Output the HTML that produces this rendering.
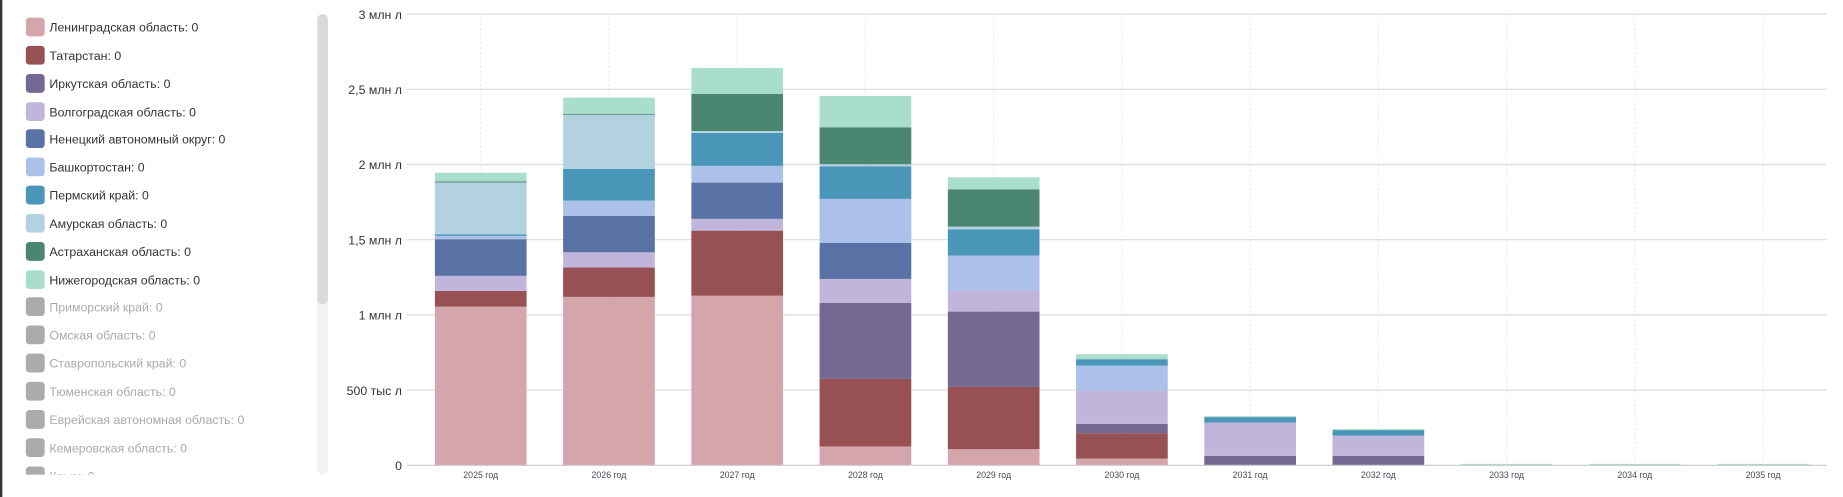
<!DOCTYPE html>
<html><head><meta charset="utf-8">
<style>
html,body{margin:0;padding:0;background:#fff;overflow:hidden}
svg{display:block}
text{font-family:"Liberation Sans","DejaVu Sans",sans-serif}
</style></head>
<body>
<svg id="s" width="1843" height="497" viewBox="0 0 1568 423" preserveAspectRatio="none" xmlns="http://www.w3.org/2000/svg">
<rect x="0" y="0" width="1568" height="423" fill="#fff"/>
<rect x="0" y="0" width="2" height="423" fill="#333"/>
<!-- scrollbar -->
<rect x="270" y="12" width="9" height="392" rx="4.5" fill="#f3f3f3"/>
<rect x="270" y="12" width="9" height="247" rx="4.5" fill="#d9d9d9"/>
<!-- legend -->
<g font-size="10.5">
<defs><clipPath id="lc"><rect x="0" y="0" width="265" height="404"/></clipPath></defs>
<g clip-path="url(#lc)">
<rect x="22" y="15" width="16" height="16" rx="3" fill="#d4a5ab"/><text x="42" y="27" fill="#333">Ленинградская область: 0</text>
<rect x="22" y="39" width="16" height="16" rx="3" fill="#975153"/><text x="42" y="51" fill="#333">Татарстан: 0</text>
<rect x="22" y="63" width="16" height="16" rx="3" fill="#756892"/><text x="42" y="75" fill="#333">Иркутская область: 0</text>
<rect x="22" y="87" width="16" height="16" rx="3" fill="#c0b5da"/><text x="42" y="99" fill="#333">Волгоградская область: 0</text>
<rect x="22" y="110" width="16" height="16" rx="3" fill="#5872a6"/><text x="42" y="122" fill="#333">Ненецкий автономный округ: 0</text>
<rect x="22" y="134" width="16" height="16" rx="3" fill="#abc1ea"/><text x="42" y="146" fill="#333">Башкортостан: 0</text>
<rect x="22" y="158" width="16" height="16" rx="3" fill="#4a96b8"/><text x="42" y="170" fill="#333">Пермский край: 0</text>
<rect x="22" y="182" width="16" height="16" rx="3" fill="#b3d2df"/><text x="42" y="194" fill="#333">Амурская область: 0</text>
<rect x="22" y="206" width="16" height="16" rx="3" fill="#4b8670"/><text x="42" y="218" fill="#333">Астраханская область: 0</text>
<rect x="22" y="230" width="16" height="16" rx="3" fill="#a9dfca"/><text x="42" y="242" fill="#333">Нижегородская область: 0</text>
<rect x="22" y="253" width="16" height="16" rx="3" fill="#ababab"/><text x="42" y="265" fill="#aaa">Приморский край: 0</text>
<rect x="22" y="277" width="16" height="16" rx="3" fill="#ababab"/><text x="42" y="289" fill="#aaa">Омская область: 0</text>
<rect x="22" y="301" width="16" height="16" rx="3" fill="#ababab"/><text x="42" y="313" fill="#aaa">Ставропольский край: 0</text>
<rect x="22" y="325" width="16" height="16" rx="3" fill="#ababab"/><text x="42" y="337" fill="#aaa">Тюменская область: 0</text>
<rect x="22" y="349" width="16" height="16" rx="3" fill="#ababab"/><text x="42" y="361" fill="#aaa">Еврейская автономная область: 0</text>
<rect x="22" y="373" width="16" height="16" rx="3" fill="#ababab"/><text x="42" y="385" fill="#aaa">Кемеровская область: 0</text>
<rect x="22" y="397" width="16" height="16" rx="3" fill="#ababab"/><text x="42" y="409" fill="#aaa">Крым: 0</text>
</g></g>
<!-- grid -->
<g stroke="#dcdcdc" stroke-width="1">
<line x1="346" x2="1554" y1="12" y2="12"/>
<line x1="346" x2="1554" y1="76" y2="76"/>
<line x1="346" x2="1554" y1="140" y2="140"/>
<line x1="346" x2="1554" y1="204" y2="204"/>
<line x1="346" x2="1554" y1="268" y2="268"/>
<line x1="346" x2="1554" y1="332" y2="332"/>
</g>
<g id="vg" stroke="#e6e6e6" stroke-width="0.8" stroke-dasharray="2,2"></g>
<g id="bars"></g>
<line x1="346" x2="1554" y1="396" y2="396" stroke="#c8c8c8" stroke-width="1"/>
<g font-size="10.5" fill="#333" text-anchor="end">
<text x="342" y="16">3 млн л</text>
<text x="342" y="80">2,5 млн л</text>
<text x="342" y="144">2 млн л</text>
<text x="342" y="208">1,5 млн л</text>
<text x="342" y="272">1 млн л</text>
<text x="342" y="336">500 тыс л</text>
<text x="342" y="400">0</text>
</g>
<g font-size="7.5" fill="#4a4a5a" text-anchor="middle">
<text x="409" y="407">2025 год</text>
<text x="518.1" y="407">2026 год</text>
<text x="627.2" y="407">2027 год</text>
<text x="736.3" y="407">2028 год</text>
<text x="845.4" y="407">2029 год</text>
<text x="954.5" y="407">2030 год</text>
<text x="1063.6" y="407">2031 год</text>
<text x="1172.7" y="407">2032 год</text>
<text x="1281.8" y="407">2033 год</text>
<text x="1390.9" y="407">2034 год</text>
<text x="1500" y="407">2035 год</text>
</g>
</svg>
<script>
var C={L:"#d4a5ab",T:"#975153",I:"#756892",V:"#c0b5da",N:"#5872a6",B:"#abc1ea",P:"#4a96b8",A:"#b3d2df",S:"#4b8670",Z:"#a9dfca"};
var D=[
[["L",261],["T",247.6],["V",234.8],["N",203.6],["B",200.8],["P",199.4],["A",155],["S",154.5],["Z",147]],
[["L",252.7],["T",227.7],["V",214.7],["N",183.8],["B",170.7],["P",143.8],["A",97.3],["S",96.8],["Z",83.1]],
[["L",251.6],["T",196.3],["V",186.3],["N",155.4],["B",141.2],["P",113.2],["A",111.5],["S",80],["Z",57.9]],
[["L",380],["T",322.5],["I",257.8],["V",237.4],["N",206.8],["B",169.3],["P",141.5],["A",139.8],["S",108.3],["Z",81.7]],
[["L",382.3],["T",329.3],["I",265.2],["V",247.3],["B",217.5],["P",195.1],["A",192.9],["S",161.1],["Z",150.9]],
[["L",390.3],["T",368.7],["I",360.8],["V",332.4],["B",311.1],["P",305.7],["Z",301.5]],
[["I",388],["V",359.6],["P",355],["Z",354.2]],
[["I",388],["V",370.7],["P",365.9],["Z",365.3]],
[["Z",394.8]],[["Z",394.8]],[["Z",394.8]]];
var ns="http://www.w3.org/2000/svg",g=document.getElementById("bars"),vg=document.getElementById("vg");
D.forEach(function(b,i){
 var cx=409+109.1*i,x=cx-39,prev=396;
 var l=document.createElementNS(ns,"line");l.setAttribute("x1",cx);l.setAttribute("x2",cx);l.setAttribute("y1",12);l.setAttribute("y2",396);vg.appendChild(l);
 b.forEach(function(s){
  var r=document.createElementNS(ns,"rect");
  r.setAttribute("x",x);r.setAttribute("width",78);r.setAttribute("y",s[1]);r.setAttribute("height",Math.max(prev-s[1],0.8));
  r.setAttribute("fill",C[s[0]]);g.appendChild(r);prev=s[1];
 });
});
</script>
</body></html>
